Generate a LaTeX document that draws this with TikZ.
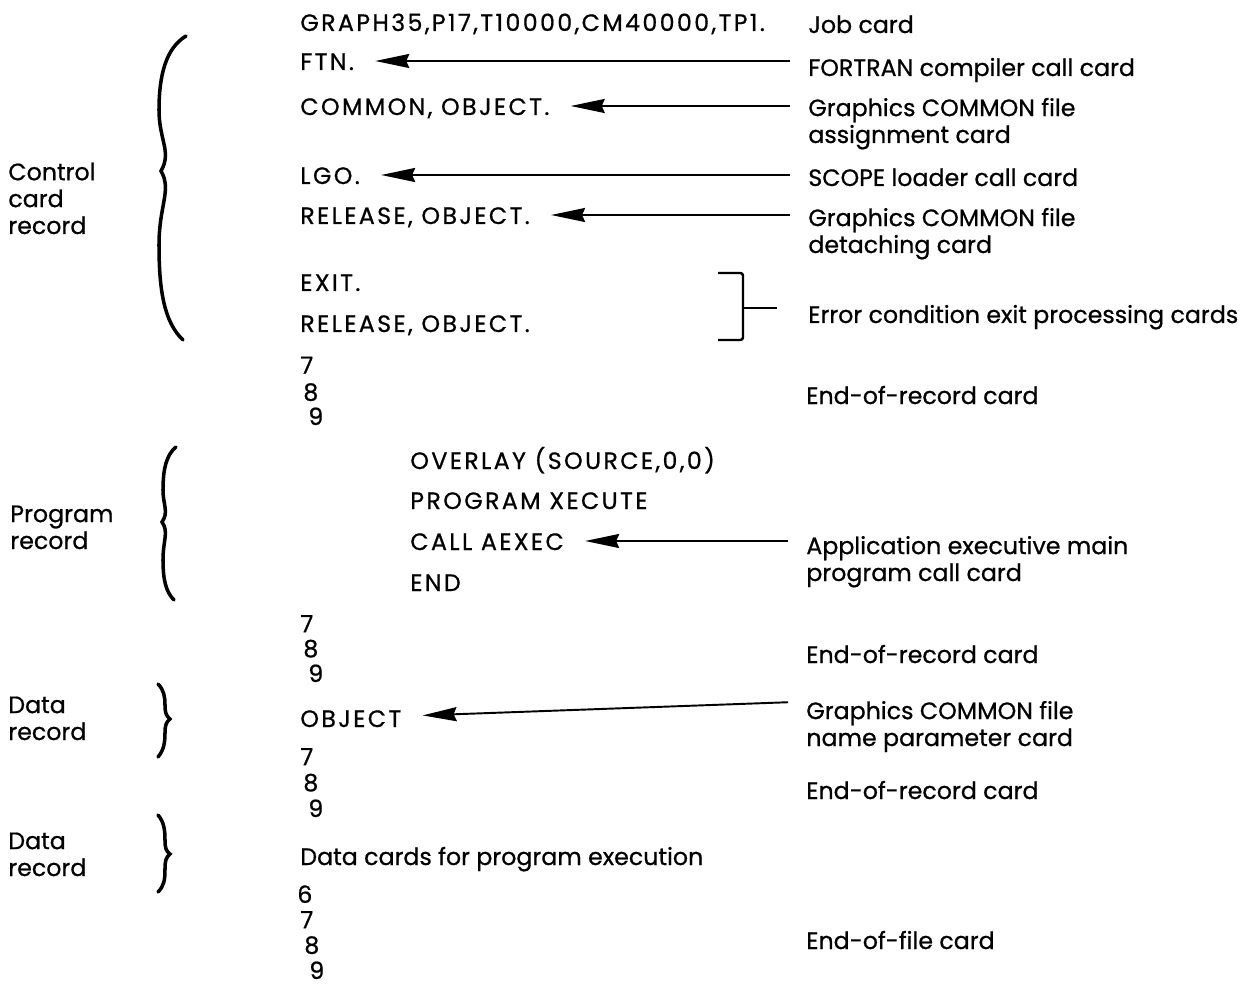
\documentclass[tikz,border=0pt]{standalone}
\usepackage{fontspec}
\setmainfont{Poppins}[FakeBold=0.7]
\usepackage{tikz}
\usetikzlibrary{arrows.meta,positioning}

\begin{document}
\begin{tikzpicture}[
  x=0.02cm,y=-0.02cm,
  font=\fontsize{13.5}{15.3}\selectfont,
  >=Stealth,
  cardline/.style={anchor=base west,inner sep=0pt,text height=0.36cm,text depth=0pt,
    font=\fontsize{13.5}{15.3}\selectfont\addfontfeatures{LetterSpace=10}},
  note/.style={anchor=base west,inner sep=0pt,align=left},
  reclabel/.style={anchor=base west,inner sep=0pt,align=left},
  punch/.style={anchor=base west,inner sep=0pt,align=left},
  callout/.style={-{Stealth[length=0.68cm,width=0.28cm,inset=0.06cm]},line width=1.1pt,
    shorten <=0.36cm,shorten >=0.42cm},
  bracket/.style={line width=1.4pt,rounded corners=1.5pt},
  recbrace/.style={line width=2pt,line cap=round}
]
  \useasboundingbox (0,0) rectangle (1244,986);

  % record names on the left
  \node[reclabel] (ctrlrec) at (8,234) {Control\\card\\record};
  \node[reclabel] (progrec) at (10,549) {Program\\record};
  \node[reclabel] (datarecA) at (8,740) {Data\\record};
  \node[reclabel] (datarecB) at (8,876) {Data\\record};

  % braces
  \draw[recbrace] (186,36) .. controls (166,48) and (159,75) .. (159,110)
    .. controls (159,140) and (172,152) .. (161,171)
    .. controls (172,190) and (159,205) .. (159,245)
    .. controls (159,290) and (164,322) .. (183,340);
  \draw[recbrace] (176,447) .. controls (166,455) and (163,470) .. (163,490)
    .. controls (163,505) and (169,512) .. (162,522)
    .. controls (169,532) and (163,540) .. (163,560)
    .. controls (163,580) and (166,592) .. (174,600);
  \draw[recbrace] (158,684) .. controls (164,690) and (165,697) .. (165,705)
    .. controls (165,712) and (166,716) .. (170,719)
    .. controls (166,722) and (165,726) .. (165,733)
    .. controls (165,742) and (164,750) .. (158,757);
  \draw[recbrace] (158,815) .. controls (164,822) and (165,830) .. (165,840)
    .. controls (165,848) and (166,851) .. (170,854)
    .. controls (166,857) and (165,861) .. (165,869)
    .. controls (165,880) and (164,886) .. (158,892);

  % control cards
  \node[cardline] (job) at (300,31) {GRAPH35,P17,T10000,CM40000,TP1.};
  \node[cardline] (ftn) at (300,70) {FTN.};
  \node[cardline] (common) at (300,115) {COMMON, OBJECT.};
  \node[cardline] (lgo) at (300,184) {LGO.};
  \node[cardline] (release) at (300,224) {RELEASE, OBJECT.};
  \node[cardline] (exit) at (300,291) {EXIT.};
  \node[cardline] (releaseB) at (300,332) {RELEASE, OBJECT.};
  \node[punch] (eorA) at (300,425) {7\\\hspace*{0.06cm}8\\[-0.05cm]\hspace*{0.16cm}9};

  % program cards
  \node[cardline] (overlay) at (410,469) {OVERLAY (SOURCE,0,0)};
  \node[cardline] (program) at (410,509) {PROGRAM XECUTE};
  \node[cardline] (callexec) at (410,550) {CALL AEXEC};
  \node[cardline] (progend) at (410,591) {END};
  \node[punch] (eorB) at (300,682) {7\\[-0.04cm]\hspace*{0.06cm}8\\[-0.04cm]\hspace*{0.16cm}9};

  % data cards
  \node[cardline] (objparam) at (300,727) {OBJECT};
  \node[punch] (eorC) at (300,817) {7\\[-0.02cm]\hspace*{0.06cm}8\\[-0.02cm]\hspace*{0.16cm}9};
  \node[note] (datacards) at (300,865) {Data cards for program execution};
  \node[punch] (eof) at (297,979) {6\\[-0.03cm]\hspace*{0.06cm}7\\[-0.03cm]\hspace*{0.14cm}8\\[-0.03cm]\hspace*{0.24cm}9};

  % notes on the right
  \node[note] (jobnote) at (808,33) {Job card};
  \node[note] (ftnnote) at (808,76) {FORTRAN compiler call card};
  \node[note] (assignnote) at (808,143) {Graphics COMMON file\\assignment card};
  \node[note] (scopenote) at (808,186) {SCOPE loader call card};
  \node[note] (detachnote) at (808,253) {Graphics COMMON file\\detaching card};
  \node[note] (errnote) at (808,323) {Error condition exit processing cards};
  \node[note] (eornoteA) at (806,404) {End-of-record card};
  \node[note] (applnote) at (806,581) {Application executive main\\program call card};
  \node[note] (eornoteB) at (806,663) {End-of-record card};
  \node[note] (namenote) at (806,746) {Graphics COMMON file\\name parameter card};
  \node[note] (eornoteC) at (806,799) {End-of-record card};
  \node[note] (eofnote) at (806,949) {End-of-file card};

  % callouts
  \draw[callout] (ftnnote.west |- ftn) -- (ftn);
  \draw[callout] (assignnote.west |- common) -- (common);
  \draw[callout] (scopenote.west |- lgo) -- (lgo);
  \draw[callout] (detachnote.west |- release) -- (release);
  \draw[callout] (applnote.west |- callexec) -- (callexec);
  \draw[callout] ([yshift=0.5cm]namenote.west) -- (objparam);

  % exit bracket
  \coordinate (errjoin) at (743,308);
  \draw[bracket] (718,273) -- (743,273) -- (743,340) -- (718,340);
  \draw[bracket] (errjoin) -- (errjoin -| errnote.west)[shorten >=0.62cm];
\end{tikzpicture}
\end{document}
